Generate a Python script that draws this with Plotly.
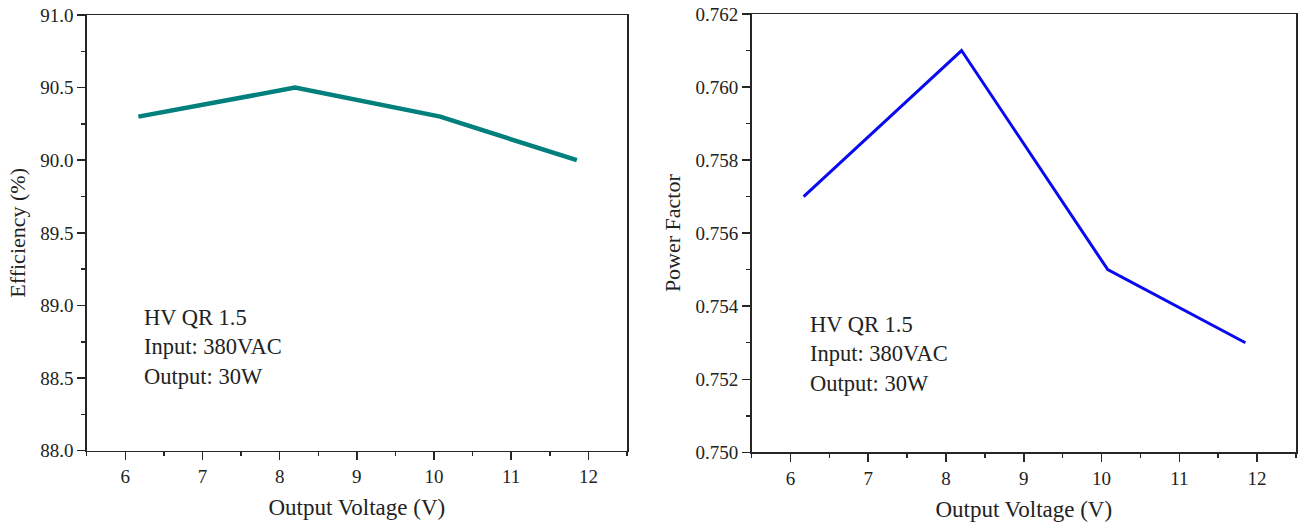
import plotly.graph_objects as go

voltage = [6.17, 8.2, 10.08, 11.85]
efficiency = [90.3, 90.5, 90.3, 90.0]
power_factor = [0.757, 0.761, 0.755, 0.753]
x_ticks = [6, 7, 8, 9, 10, 11, 12]
eff_ticks = [88.0, 88.5, 89.0, 89.5, 90.0, 90.5, 91.0]
pf_ticks = [0.750, 0.752, 0.754, 0.756, 0.758, 0.760, 0.762]
note_lines = ["HV QR 1.5", "Input: 380VAC", "Output: 30W"]

SERIF = "Liberation Serif"
TXT = "#222222"
AX = "#262626"

fig = go.Figure()
fig.add_trace(go.Scatter(x=voltage, y=efficiency, mode="lines",
                         line=dict(color="#00807c", width=4.5),
                         xaxis="x", yaxis="y", showlegend=False, hoverinfo="skip"))
fig.add_trace(go.Scatter(x=voltage, y=power_factor, mode="lines",
                         line=dict(color="#0a0af0", width=3),
                         xaxis="x2", yaxis="y2", showlegend=False, hoverinfo="skip"))

# body margin is removed by post_script, so window pixels == figure pixels
W, H = 1299, 529
def xd(a, b):
    return [a / W, b / W]
def yd(top, bot):
    return [(H - bot) / H, (H - top) / H]

common_x = dict(range=[5.5, 12.5], tickvals=x_ticks, ticks="outside", ticklen=8, tickwidth=1.5,
                tickcolor=AX, showline=True, linecolor=AX, linewidth=1.5, mirror=True,
                showgrid=False, zeroline=False, automargin=False, ticklabeloverflow="allow",
                minor=dict(dtick=0.5, tick0=5.5, ticks="outside", ticklen=4, tickwidth=1.5, tickcolor=AX),
                tickfont=dict(family=SERIF, size=19, color=TXT),
                title=dict(text="Output Voltage (V)", font=dict(family=SERIF, size=23, color=TXT), standoff=13))
common_y = dict(ticks="outside", ticklen=8, tickwidth=1.5, tickcolor=AX, showline=True,
                linecolor=AX, linewidth=1.5, mirror=True, showgrid=False, zeroline=False,
                automargin=False, ticklabeloverflow="allow",
                tickfont=dict(family=SERIF, size=19, color=TXT))

fig.update_layout(
    width=W, height=H, margin=dict(l=0, r=0, t=0, b=0),
    paper_bgcolor="white", plot_bgcolor="white", hovermode=False,
    xaxis=dict(domain=xd(86.7, 627), anchor="y", **common_x),
    yaxis=dict(domain=yd(15, 450.7), anchor="x", range=[88.0, 91.0], tickvals=eff_ticks,
               ticktext=[f"{v:.1f}" for v in eff_ticks],
               minor=dict(dtick=0.25, tick0=88.0, ticks="outside", ticklen=4, tickwidth=1.5, tickcolor=AX),
               title=dict(text="Efficiency (%)", font=dict(family=SERIF, size=22, color=TXT), standoff=8),
               **common_y),
    xaxis2=dict(domain=xd(751.5, 1296), anchor="y2", **common_x),
    yaxis2=dict(domain=yd(14, 452.3), anchor="x2", range=[0.750, 0.762], tickvals=pf_ticks,
                ticktext=[f"{v:.3f}" for v in pf_ticks],
                minor=dict(dtick=0.001, tick0=0.750, ticks="outside", ticklen=4, tickwidth=1.5, tickcolor=AX),
                title=dict(text="Power Factor", font=dict(family=SERIF, size=22, color=TXT), standoff=8),
                **common_y),
)

note = "<br>".join(note_lines)
fig.add_annotation(x=6.22, y=89.015, xref="x", yref="y", text=note, showarrow=False,
                   xanchor="left", yanchor="top", align="left",
                   font=dict(family=SERIF, size=22.5, color=TXT))
fig.add_annotation(x=6.22, y=0.75390, xref="x2", yref="y2", text=note, showarrow=False,
                   xanchor="left", yanchor="top", align="left",
                   font=dict(family=SERIF, size=22.5, color=TXT))

fig.write_html("out.html", config={"displayModeBar": False, "staticPlot": True},
               post_script="document.body.style.margin='0';document.body.style.overflow='hidden';")
